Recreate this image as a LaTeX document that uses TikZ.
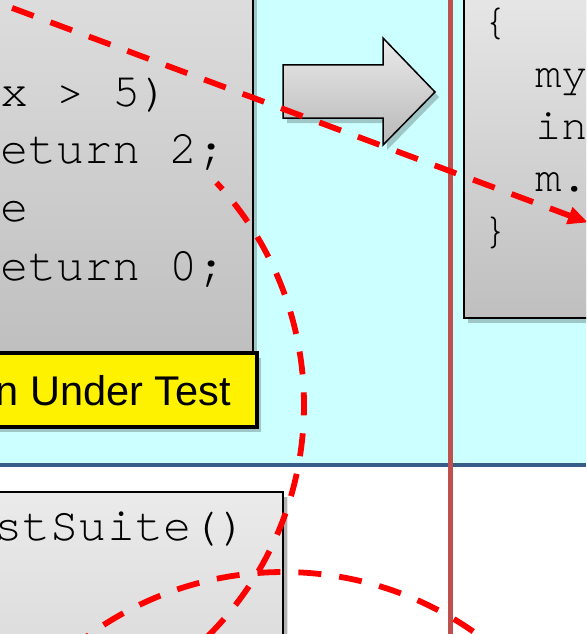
\documentclass[tikz,border=0pt]{standalone}
\usepackage{fontspec}
\setmainfont{Liberation Sans}
\newfontfamily\codefont{texgyrecursor-regular.otf}
\usetikzlibrary{arrows.meta,shadows}

\definecolor{slidecyan}{HTML}{CCFFFF}
\definecolor{divblue}{HTML}{385D8A}
\definecolor{divred}{HTML}{C0504D}
\definecolor{callred}{HTML}{FF0000}
\definecolor{boxtop}{HTML}{DEDEDE}
\definecolor{boxbot}{HTML}{BFBFBF}

\begin{document}
\begin{tikzpicture}[x=1pt,y=-1pt,
  codebox/.style={draw=black,line width=1.5pt,top color=boxtop,bottom color=boxbot,
    drop shadow={shadow xshift=4pt,shadow yshift=-5pt,opacity=0.22,fill=black}},
  codetext/.style={anchor=base west,inner sep=0pt,font=\codefont\fontsize{47}{57}\selectfont},
  smallcode/.style={anchor=base west,inner sep=0pt,font=\codefont\fontsize{44}{52}\selectfont},
  redarc/.style={draw=callred,line width=5.8pt,dash pattern=on 23pt off 18pt}]

\useasboundingbox (0,0) rectangle (586,634);
\clip (0,0) rectangle (586,634);

%draw the background and the two dividers
\fill[white] (0,0) rectangle (586,634);
\fill[slidecyan] (0,0) rectangle (586,465);
\draw[line width=4.5pt,divblue] (0,465) -- (586,465);
\draw[line width=5pt,divred] (450,-5) -- (450,640);

%method under test
\path[codebox] (-20,-20) rectangle (253,354);
\node[codetext] (ifline) at (0,106.7) {x > 5)};
\node[codetext] (retline) at (0,163.3) {eturn 2;};
\node[codetext] (elseline) at (0,221.7) {e};
\node[codetext] (zeroline) at (0,280) {eturn 0;};

%caller on the right
\path[codebox,top color=black!9] (464,-20) rectangle (620,318);
\node[smallcode] (openbrace) at (482.5,35) {\{};
\node[smallcode] (myline) at (535.3,87) {my};
\node[smallcode] (inline) at (535.3,139) {in};
\node[smallcode] (mline) at (535.3,191) {m.};
\node[smallcode] (closebrace) at (482.5,243) {\}};

%test suite below
\path[codebox,top color=black!8,bottom color=black!14,
  drop shadow={shadow xshift=5pt,shadow yshift=-5pt,opacity=0.1,fill=black}] (-20,492) rectangle (283,660);
\node[codetext] (suiteline) at (-6,540) {stSuite()};

%the block arrow
\coordinate (arrowtail) at (283,65);
\path[codebox,top color=black!8,bottom color=black!28] (arrowtail) -- ++(100,0) -- ++(0,-27) -- ++(52,54) -- ++(-52,53) -- ++(0,-27) -- ++(-100,0) -- cycle;

%yellow label
\path[draw=black,line width=3.5pt,fill=yellow,
  drop shadow={shadow xshift=4pt,shadow yshift=-5pt,opacity=0.22,fill=black}] (-20,353) rectangle (257,427);
\node[anchor=base east,inner sep=0pt,font=\fontsize{41.5}{48}\selectfont] (mutlabel) at (231,405) {n Under Test};

%red dashed calls
\coordinate (callstart) at (-20,-4);
\coordinate (calltip) at (588,222.5);
\draw[redarc,dash phase=6.8pt,-{Triangle[length=20pt,width=17pt]}] (callstart) -- (calltip);

\coordinate (retcenter) at (-22,405);
\draw[redarc,dash phase=14pt] (retcenter) ++(-43:326) arc[start angle=-43,end angle=52,radius=326];

\coordinate (suitecenter) at (283.5,904);
\draw[redarc,dash phase=10.9pt] (suitecenter) ++(-128:332) arc[start angle=-128,end angle=-50,radius=332];

\end{tikzpicture}
\end{document}
